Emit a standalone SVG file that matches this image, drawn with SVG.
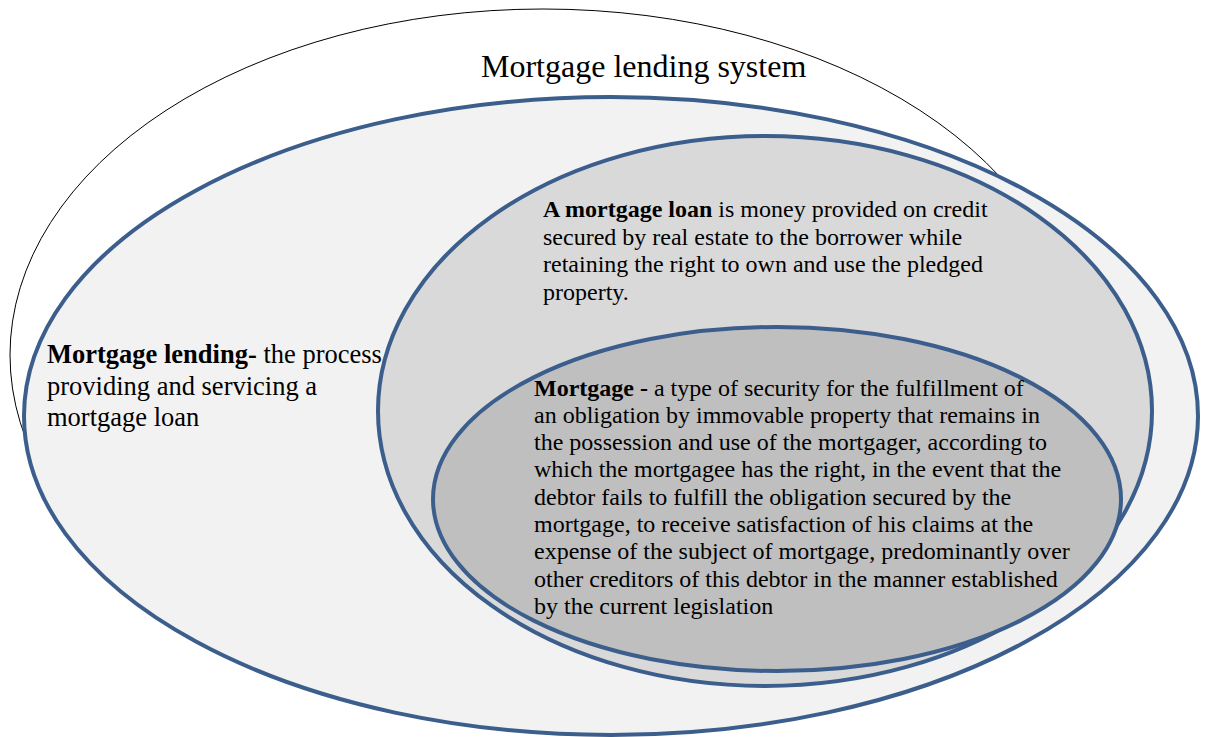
<svg xmlns="http://www.w3.org/2000/svg" width="1205" height="737" viewBox="0 0 1205 737">
  <style>
    .t { font-family: "Liberation Serif", "Times New Roman", serif; fill: #000; }
    .b { font-weight: bold; }
    .blue { stroke: #3B5E8C; stroke-width: 4; }
    .sys { fill: #ffffff; stroke: #000; stroke-width: 1; }
  </style>
  <rect x="0" y="0" width="1205" height="737" fill="#ffffff"/>
  <g id="mortgage-lending-system">
    <ellipse class="sys" cx="543" cy="355" rx="533" ry="346"/>
    <text class="t" x="481" y="77" font-size="32">Mortgage lending system</text>
  </g>
  <g id="mortgage-lending">
    <ellipse class="blue" cx="611" cy="416" rx="587" ry="319" fill="#F2F2F2"/>
    <text class="t" font-size="26.5">
      <tspan x="47" y="363"><tspan class="b">Mortgage lending-</tspan> the process</tspan>
      <tspan x="47" y="394.5">providing and servicing a</tspan>
      <tspan x="47" y="426">mortgage loan</tspan>
    </text>
  </g>
  <g id="mortgage-loan">
    <ellipse class="blue" cx="765" cy="411" rx="387" ry="275" fill="#D9D9D9"/>
    <text class="t" font-size="24">
      <tspan x="543" y="217"><tspan class="b">A mortgage loan</tspan> is money provided on credit</tspan>
      <tspan x="543" y="244.5">secured by real estate to the borrower while</tspan>
      <tspan x="543" y="272">retaining the right to own and use the pledged</tspan>
      <tspan x="543" y="299.5">property.</tspan>
    </text>
  </g>
  <g id="mortgage">
    <ellipse class="blue" cx="777" cy="499" rx="344" ry="172" fill="#BFBFBF"/>
    <text class="t" font-size="24">
      <tspan x="534" y="395.5"><tspan class="b">Mortgage -</tspan> a type of security for the fulfillment of</tspan>
      <tspan x="534" y="422.8">an obligation by immovable property that remains in</tspan>
      <tspan x="534" y="450.1">the possession and use of the mortgager, according to</tspan>
      <tspan x="534" y="477.4">which the mortgagee has the right, in the event that the</tspan>
      <tspan x="534" y="504.7">debtor fails to fulfill the obligation secured by the</tspan>
      <tspan x="534" y="532">mortgage, to receive satisfaction of his claims at the</tspan>
      <tspan x="534" y="559.3">expense of the subject of mortgage, predominantly over</tspan>
      <tspan x="534" y="586.6">other creditors of this debtor in the manner established</tspan>
      <tspan x="534" y="613.9">by the current legislation</tspan>
    </text>
  </g>
</svg>
